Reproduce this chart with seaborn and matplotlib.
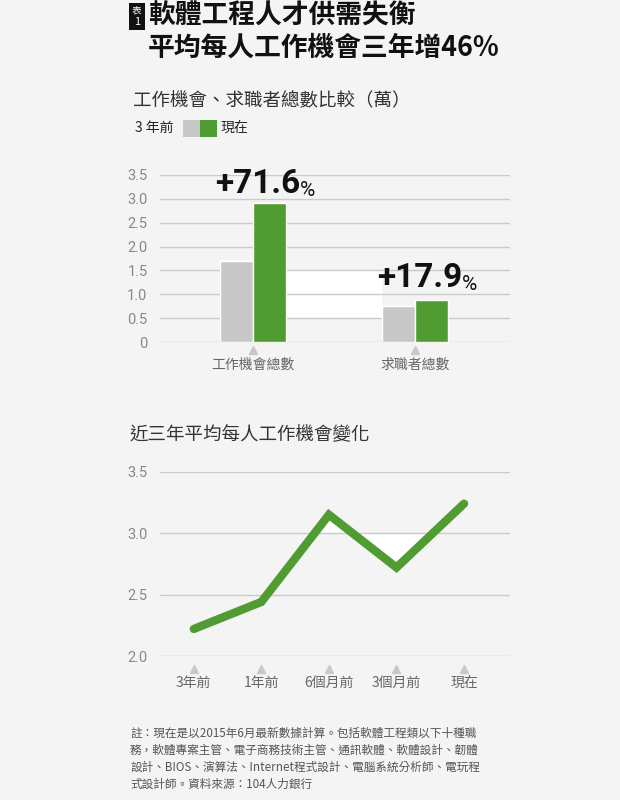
import numpy as np
import pandas as pd
import matplotlib
matplotlib.use('Agg')
import matplotlib.pyplot as plt
from matplotlib.patches import Rectangle
import seaborn as sns

# 資料
categories = ['工作機會總數', '求職者總數']
before_vals = [1.70, 0.745]   # 3 年前 (萬)
now_vals = [2.917, 0.878]     # 現在 (萬)
growth_labels = ['+71.6', '+17.9']

periods = ['3年前', '1年前', '6個月前', '3個月前', '現在']
avg_jobs = [2.22, 2.44, 3.15, 2.72, 3.24]

footnote = [
    '註：現在是以2015年6月最新數據計算。包括軟體工程類以下十種職',
    '務，軟體專案主管、電子商務技術主管、通訊軟體、軟體設計、韌體',
    '設計、BIOS、演算法、Internet程式設計、電腦系統分析師、電玩程',
    '式設計師。資料來源：104人力銀行',
]

BG = '#f4f4f4'
GREEN = '#519b33'
GRAY = '#c8c8c8'
GRID = '#cbcbcb'

sns.set_style('white')
plt.rcParams['font.family'] = ['Noto Sans CJK TC', 'DejaVu Sans']
NUM_FONT = ['Roboto', 'DejaVu Sans']

fig = plt.figure(figsize=(6.2, 8), dpi=100, facecolor=BG)

def px(x, y):
    return x / 620, 1 - y / 800

# ---- 標題 ----
fig.patches.append(Rectangle(px(129, 30), 16 / 620, 27 / 800, transform=fig.transFigure,
                             facecolor='#111111', edgecolor='none'))
fig.text(*px(137, 10), '表', color='white', fontsize=7, ha='center', va='center')
fig.text(*px(137, 22), '1', color='white', fontsize=8, ha='center', va='center')
fig.text(*px(148, 16), '軟體工程人才供需失衡', fontsize=19.3, fontweight='bold',
         color='#111111', va='center')
fig.text(*px(148, 48), '平均每人工作機會三年增46%', fontsize=19.3, fontweight='bold',
         color='#111111', va='center')

fig.text(*px(133, 101), '工作機會、求職者總數比較（萬）', fontsize=13.3, color='#333333', va='center')
fig.text(*px(135, 128), '3 年前', fontsize=10, color='#222222', va='center')
fig.patches.append(Rectangle(px(183, 137), 17 / 620, 17 / 800, transform=fig.transFigure,
                             facecolor=GRAY, edgecolor='none'))
fig.patches.append(Rectangle(px(200, 137), 17 / 620, 17 / 800, transform=fig.transFigure,
                             facecolor=GREEN, edgecolor='none'))
fig.text(*px(221, 128), '現在', fontsize=10, color='#222222', va='center')

# ---- 長條圖 ----
ax1 = fig.add_axes([160 / 620, 1 - 342 / 800, 350 / 620, 167 / 800])
ax1.set_facecolor(BG)
df = pd.DataFrame({
    'category': categories * 2,
    'value': before_vals + now_vals,
    'period': ['3 年前'] * 2 + ['現在'] * 2,
})
bar_w = 0.41
sns.barplot(data=df, x='category', y='value', hue='period', palette=[GRAY, GREEN],
            width=bar_w, dodge=True, legend=False, ax=ax1, zorder=3, saturation=1)
ax1.fill_between([bar_w / 2, 1 - bar_w / 2], 0.5, 1.5, color='white', zorder=0.5, lw=0)
ax1.set_xlim(-0.574, 1.586)
ax1.set_ylim(0, 3.5)
ax1.set_yticks(np.arange(0, 3.51, 0.5))
ax1.set_yticklabels(['0'] + [f'{v:.1f}' for v in np.arange(0.5, 3.51, 0.5)])
ax1.set_xlabel('')
ax1.set_ylabel('')

for i, (lab, y) in enumerate(zip(growth_labels, [3.12, 1.15])):
    t = ax1.text(i + 0.29, y, lab, fontsize=24, fontweight='bold', family=NUM_FONT,
                 ha='right', va='baseline', color='#111111', zorder=5)
    ax1.annotate('%', xy=(1, 0), xycoords=t, fontsize=15, family=NUM_FONT,
                 ha='left', va='bottom', color='#111111', xytext=(0, 0),
                 textcoords='offset points')

# ---- 折線圖 ----
ax2 = fig.add_axes([160 / 620, 1 - 656 / 800, 350 / 620, 184.3 / 800])
ax2.set_facecolor(BG)
xs = np.arange(len(periods))
sns.lineplot(x=xs, y=avg_jobs, color=GREEN, lw=6, ax=ax2, zorder=4,
             solid_capstyle='round', solid_joinstyle='miter')
# 白色區塊：3.0 與折線之間
yv = np.array(avg_jobs)
c1 = 1 + (3.0 - yv[1]) / (yv[2] - yv[1])
c2 = 3 + (3.0 - yv[3]) / (yv[4] - yv[3])
xf = np.linspace(c1, c2, 200)
ax2.fill_between(xf, np.interp(xf, xs, yv), 3.0, color='white', lw=0, zorder=0.5)
ax2.set_xlim(-0.5, 4.68)
ax2.set_ylim(2.0, 3.5)
ax2.set_yticks([2.0, 2.5, 3.0, 3.5])
ax2.set_xticks(xs)
ax2.set_xticklabels(periods)

fig.text(*px(130, 435), '近三年平均每人工作機會變化', fontsize=13.3, color='#333333', va='center')

for ax, tri_off, lab_pad in [(ax1, 8, 11), (ax2, 13, 14)]:
    ax.yaxis.grid(True, color=GRID, lw=1, zorder=1)
    ax.xaxis.grid(False)
    ax.set_axisbelow(True)
    sns.despine(ax=ax, left=True, bottom=True)
    ax.tick_params(axis='both', length=0)
    ax.tick_params(axis='y', pad=9, labelsize=10.5, labelcolor='#888888')
    ax.tick_params(axis='x', pad=lab_pad, labelsize=10, labelcolor='#666666')
    for lab in ax.get_yticklabels():
        lab.set_family(NUM_FONT)
    ticks = ax.get_xticks()
    off = tri_off / (ax.get_position().height * 800)
    ax.plot(ticks, [-off] * len(ticks), marker='^', ls='none', ms=6, color=GRAY,
            transform=ax.get_xaxis_transform(), clip_on=False)

for i, line in enumerate(footnote):
    fig.text(*px(130, 733 + i * 17), line, fontsize=8.4, color='#555555', va='center')

fig.savefig('out.png', dpi=100, facecolor=BG)
